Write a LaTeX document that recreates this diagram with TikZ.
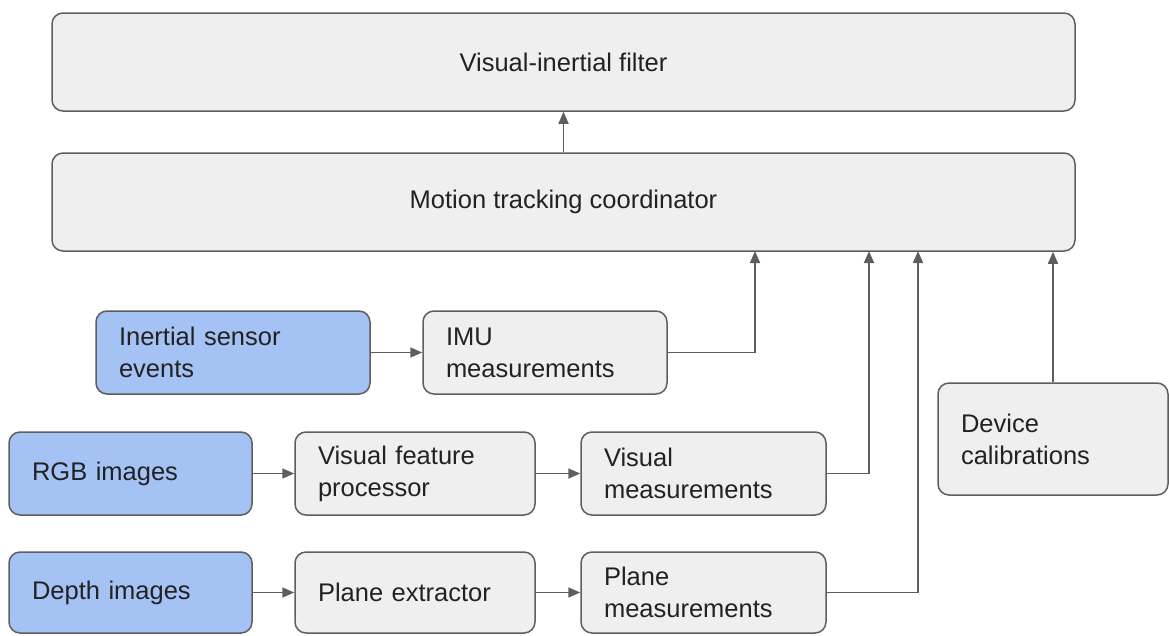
\documentclass[tikz,border=0pt]{standalone}
\usepackage{fontspec}
\setmainfont{Liberation Sans}
\usetikzlibrary{arrows.meta}
\definecolor{boxgray}{HTML}{EFEFEF}
\definecolor{boxblue}{HTML}{A4C2F4}
\definecolor{edge}{HTML}{5E5E5E}
\definecolor{ink}{HTML}{222222}
\tikzset{
  box/.style={draw=edge, line width=1.5pt, rounded corners=11pt, fill=boxgray,
    text=ink, font=\fontsize{25.5}{32}\selectfont, inner sep=0pt},
  wide/.style={box, minimum width=1023pt, minimum height=98pt, align=center},
  small/.style={box, minimum height=83pt, inner xsep=23pt, align=left},
  src/.style={small, fill=boxblue},
  arr/.style={draw=edge, line width=1.6pt, -{Triangle[length=12pt,width=10pt]}}
}
\begin{document}
\begin{tikzpicture}[x=1pt,y=-1pt]
\useasboundingbox (0,0) rectangle (1169,635);

% stacked top blocks
\node[wide] (filter) at (563.5,62) {Visual-inertial filter};
\node[wide] (coord) at (563.5,202) {Motion tracking coordinator};

% inertial branch
\node[src, text width=228pt] (inertial) at (233,352.5) {Inertial sensor\\events};
\node[small, text width=198pt] (imu) at (545,352.5) {IMU\\measurements};

% visual branch
\node[src, text width=197pt] (rgb) at (130.5,473.5) {RGB images};
\node[small, text width=194pt] (vfp) at (415,473.5) {Visual feature\\processor};
\node[small, text width=199pt] (vm) at (703.5,473.5) {Visual\\measurements};

% depth branch
\node[src, text width=197pt, minimum height=81pt] (depth) at (130.5,592.5) {Depth images};
\node[small, text width=194pt, minimum height=81pt] (pe) at (415,592.5) {Plane extractor};
\node[small, text width=199pt, minimum height=81pt] (pm) at (703.5,592.5) {Plane\\measurements};

% calibration data
\node[small, text width=184pt, minimum height=112pt] (dev) at (1053,439) {Device\\calibrations};

% entry points on the coordinator
\coordinate (inImu) at (755,251);
\coordinate (inVis) at (869,251);
\coordinate (inPlane) at (918,251);

\draw[arr] (coord.north) -- (filter.south);
\draw[arr] (inertial.east) -- (imu.west);
\draw[arr] (rgb.east) -- (vfp.west);
\draw[arr] (vfp.east) -- (vm.west);
\draw[arr] (depth.east) -- (pe.west);
\draw[arr] (pe.east) -- (pm.west);
\draw[arr] (imu.east) -| (inImu);
\draw[arr] (vm.east) -| (inVis);
\draw[arr] (pm.east) -| (inPlane);
\draw[arr] (dev.north) -- (dev.north |- coord.south);
\end{tikzpicture}
\end{document}
